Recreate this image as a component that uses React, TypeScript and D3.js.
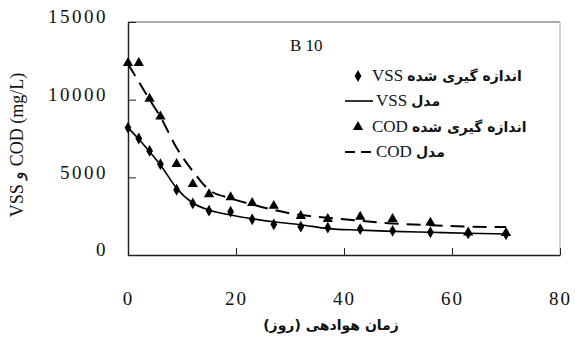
import * as d3 from 'd3';
import { useEffect, useRef } from 'react';

const days = [0, 2, 4, 6, 9, 12, 15, 19, 23, 27, 32, 37, 43, 49, 56, 63, 70];
const vssMeasured = [8200, 7500, 6700, 5850, 4200, 3320, 2850, 2790, 2300, 1970, 1820, 1760, 1670, 1560, 1460, 1390, 1330];
const vssModel = [8200, 7450, 6650, 5800, 4300, 3350, 2900, 2580, 2330, 2140, 1950, 1700, 1600, 1520, 1460, 1400, 1350];
const codMeasured = [12300, 12300, 10000, 8850, 5800, 4500, 3850, 3650, 3280, 3100, 2450, 2250, 2400, 2250, 2020, 1390, 1350];
const codModel = [12300, 11150, 10000, 8900, 6900, 5400, 4200, 3650, 3250, 2900, 2570, 2400, 2200, 2030, 1920, 1830, 1800];
const xTicks = [0, 20, 40, 60, 80];
const yTicks = [0, 5000, 10000, 15000];
const legendEn = ['VSS', 'VSS', 'COD', 'COD'];
const legendFa = ['اندازه گیری شده', 'مدل', 'اندازه گیری شده', 'مدل'];

const App = () => {
  const svgRef = useRef<SVGSVGElement>(null);

  useEffect(() => {
    const width = 575;
    const height = 345;
    const svg = d3.select(svgRef.current);
    svg.selectAll('*').remove();

    const x = d3.scaleLinear([0, 80], [128, 560]);
    const y = d3.scaleLinear([0, 15000], [255, 22]);
    const serif = 'Liberation Serif';
    const fa = 'DejaVu Sans';

    svg.append('rect').attr('width', width).attr('height', height).attr('fill', '#fff');

    // frame
    svg.append('line').attr('x1', 128).attr('x2', 560).attr('y1', 22).attr('y2', 22)
      .attr('stroke', '#555').attr('stroke-width', 1);
    svg.append('line').attr('x1', 560).attr('x2', 560).attr('y1', 22).attr('y2', 255)
      .attr('stroke', '#aaa').attr('stroke-width', 1);

    // axes
    const gx = svg.append('g').attr('transform', 'translate(0,255)')
      .call(d3.axisBottom(x).tickValues(xTicks).tickSizeInner(-7).tickSizeOuter(0).tickPadding(37));
    gx.select('.domain').attr('stroke', '#222').attr('stroke-width', 1.5);
    gx.selectAll('.tick line').attr('stroke', '#222');
    gx.selectAll('.tick text').attr('font-family', serif).attr('font-size', 19)
      .attr('letter-spacing', 2).attr('fill', '#111');

    const gy = svg.append('g').attr('transform', 'translate(128,0)')
      .call(d3.axisLeft(y).tickValues(yTicks).tickFormat(d3.format('d')).tickSizeInner(-8).tickSizeOuter(0).tickPadding(20));
    gy.select('.domain').attr('stroke', '#222').attr('stroke-width', 1.5);
    gy.selectAll('.tick line').attr('stroke', '#222');
    gy.selectAll('.tick text').attr('font-family', serif).attr('font-size', 19)
      .attr('letter-spacing', 2.5).attr('fill', '#111').attr('dy', '0.05em');

    // axis titles
    svg.append('text')
      .attr('transform', 'translate(23,145) rotate(-90)')
      .attr('text-anchor', 'middle').attr('direction', 'ltr')
      .attr('font-family', serif).attr('font-size', 18).attr('fill', '#111')
      .text('VSS و COD (mg/L)');
    svg.append('text')
      .attr('x', 331).attr('y', 330).attr('text-anchor', 'middle').attr('direction', 'rtl')
      .attr('font-family', fa).attr('font-weight', 'bold').attr('font-size', 14).attr('fill', '#111')
      .text('زمان هوادهی (روز)');

    // model lines
    const line = d3.line<number>().curve(d3.curveMonotoneX).x((_, i) => x(days[i])).y((d) => y(d));
    svg.append('path').attr('fill', 'none').attr('stroke', '#000').attr('stroke-width', 1.6)
      .attr('d', line(vssModel));
    svg.append('path').attr('fill', 'none').attr('stroke', '#000').attr('stroke-width', 2)
      .attr('stroke-dasharray', '14,8')
      .attr('d', line(codModel));

    // markers
    const diamond = d3.symbol(d3.symbolDiamond, 40);
    const triangle = d3.symbol(d3.symbolTriangle, 46);
    svg.append('g').selectAll('path').data(vssMeasured).join('path')
      .attr('transform', (d, i) => `translate(${x(days[i])},${y(d)})`)
      .attr('d', diamond()).attr('fill', '#000');
    svg.append('g').selectAll('path').data(codMeasured).join('path')
      .attr('transform', (d, i) => `translate(${x(days[i])},${y(d) - 1})`)
      .attr('d', triangle()).attr('fill', '#000');

    // title and legend
    svg.append('text').attr('x', 290).attr('y', 51).attr('font-family', serif)
      .attr('font-size', 17).attr('fill', '#111').text('B 10');

    const rowY = [76, 101, 127, 152];
    const lg = svg.append('g');
    lg.append('path').attr('transform', `translate(358,${rowY[0]})`).attr('d', diamond()).attr('fill', '#000');
    lg.append('line').attr('x1', 345).attr('x2', 373).attr('y1', rowY[1]).attr('y2', rowY[1])
      .attr('stroke', '#000').attr('stroke-width', 1.6);
    lg.append('path').attr('transform', `translate(358,${rowY[2]})`).attr('d', triangle()).attr('fill', '#000');
    lg.append('line').attr('x1', 345).attr('x2', 373).attr('y1', rowY[3]).attr('y2', rowY[3])
      .attr('stroke', '#000').attr('stroke-width', 2).attr('stroke-dasharray', '10,6');
    legendEn.forEach((en, i) => {
      const x0 = i % 2 ? 376 : 372;
      const t = lg.append('text').attr('x', x0).attr('y', rowY[i] + 5)
        .attr('font-family', serif).attr('font-size', 17).attr('fill', '#111').text(en);
      const w = (t.node() as SVGTextElement).getComputedTextLength();
      lg.append('text').attr('x', x0 + w + 4).attr('y', rowY[i] + 5).attr('direction', 'ltr')
        .attr('font-family', fa).attr('font-weight', 'bold').attr('font-size', 14).attr('fill', '#111')
        .text(legendFa[i]);
    });
  }, []);

  return <svg ref={svgRef} width={575} height={345} style={{ display: 'block', position: 'absolute', left: 0, top: 0 }} />;
};

export default App;
